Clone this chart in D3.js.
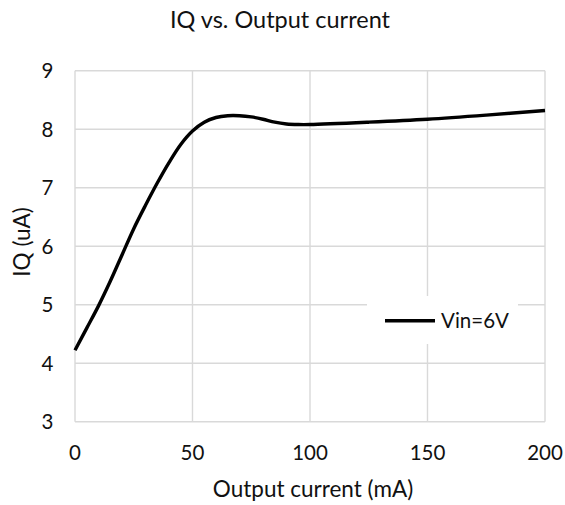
<!DOCTYPE html>
<html>
<head>
<meta charset="utf-8">
<script src="https://cdn.jsdelivr.net/npm/d3@7"></script>
<style>
	body { margin: 0; background: #fff; }
	text { font-family: Lato, "Open Sans", sans-serif; fill: #111; }
</style>
</head>
<body>
<svg id="chart" width="565" height="505"></svg>
<script>
// data
const current_ma = [0, 5, 10, 15, 20, 25, 30, 35, 40, 45, 50, 55, 60, 65, 70, 75, 80, 85, 90, 95, 100, 125, 150, 175, 200];
const iq_ua = [4.22, 4.6, 4.98, 5.4, 5.85, 6.3, 6.7, 7.08, 7.43, 7.74, 7.97, 8.12, 8.2, 8.23, 8.23, 8.21, 8.17, 8.12, 8.09, 8.08, 8.08, 8.12, 8.17, 8.24, 8.32];
const x_ticks = [0, 50, 100, 150, 200];
const y_ticks = [3, 4, 5, 6, 7, 8, 9];
const series_name = 'Vin=6V';

const svg = d3.select('#chart');
const tick_size = 20.5;
const title_size = 23.5;
const axis_title_size = 22.5;

const x = d3.scaleLinear().domain([0, 200]).range([75, 545]);
const y = d3.scaleLinear().domain([3, 9]).range([421.7, 70.7]);

// gridlines
const grid = svg.append('g');
grid.selectAll('.hgrid')
	.data(y_ticks)
	.enter().append('line')
	.attr('x1', x(0)).attr('x2', x(200))
	.attr('y1', d => y(d)).attr('y2', d => y(d))
	.attr('stroke', '#d9d9d9')
	.attr('stroke-width', 1.4);
grid.selectAll('.vgrid')
	.data(x_ticks)
	.enter().append('line')
	.attr('y1', y(3)).attr('y2', y(9))
	.attr('x1', d => x(d)).attr('x2', d => x(d))
	.attr('stroke', '#d9d9d9')
	.attr('stroke-width', 1.4);

// tick labels
svg.selectAll('.xlab')
	.data(x_ticks)
	.enter().append('text')
	.attr('x', d => x(d))
	.attr('y', 460)
	.attr('text-anchor', 'middle')
	.style('font-size', tick_size + 'px')
	.text(d => d);

svg.selectAll('.ylab')
	.data(y_ticks)
	.enter().append('text')
	.attr('x', 53.5)
	.attr('y', d => y(d))
	.attr('dy', '0.36em')
	.attr('text-anchor', 'end')
	.style('font-size', tick_size + 'px')
	.text(d => d);

// titles
svg.append('text')
	.attr('x', 280).attr('y', 28)
	.attr('text-anchor', 'middle')
	.style('font-size', title_size + 'px')
	.text('IQ vs. Output current');

svg.append('text')
	.attr('x', 313).attr('y', 497)
	.attr('text-anchor', 'middle')
	.style('font-size', axis_title_size + 'px')
	.text('Output current (mA)');

svg.append('text')
	.attr('transform', 'translate(30,242) rotate(-90)')
	.attr('text-anchor', 'middle')
	.style('font-size', axis_title_size + 'px')
	.text('IQ (uA)');

// the curve
const line = d3.line()
	.x((d, i) => x(current_ma[i]))
	.y(d => y(d))
	.curve(d3.curveCatmullRom.alpha(0.5));

svg.append('path')
	.datum(iq_ua)
	.attr('d', line)
	.attr('fill', 'none')
	.attr('stroke', '#000')
	.attr('stroke-width', 3.4)
	.attr('stroke-linecap', 'butt');

// legend
const legend = svg.append('g');
legend.append('rect')
	.attr('x', 367).attr('y', 296)
	.attr('width', 151).attr('height', 48)
	.attr('fill', '#fff');
legend.append('line')
	.attr('x1', 385).attr('x2', 435)
	.attr('y1', 320.7).attr('y2', 320.7)
	.attr('stroke', '#000')
	.attr('stroke-width', 3.4);
legend.append('text')
	.attr('x', 441).attr('y', 320.7)
	.attr('dy', '0.36em')
	.style('font-size', tick_size + 'px')
	.text(series_name);
</script>
</body>
</html>
